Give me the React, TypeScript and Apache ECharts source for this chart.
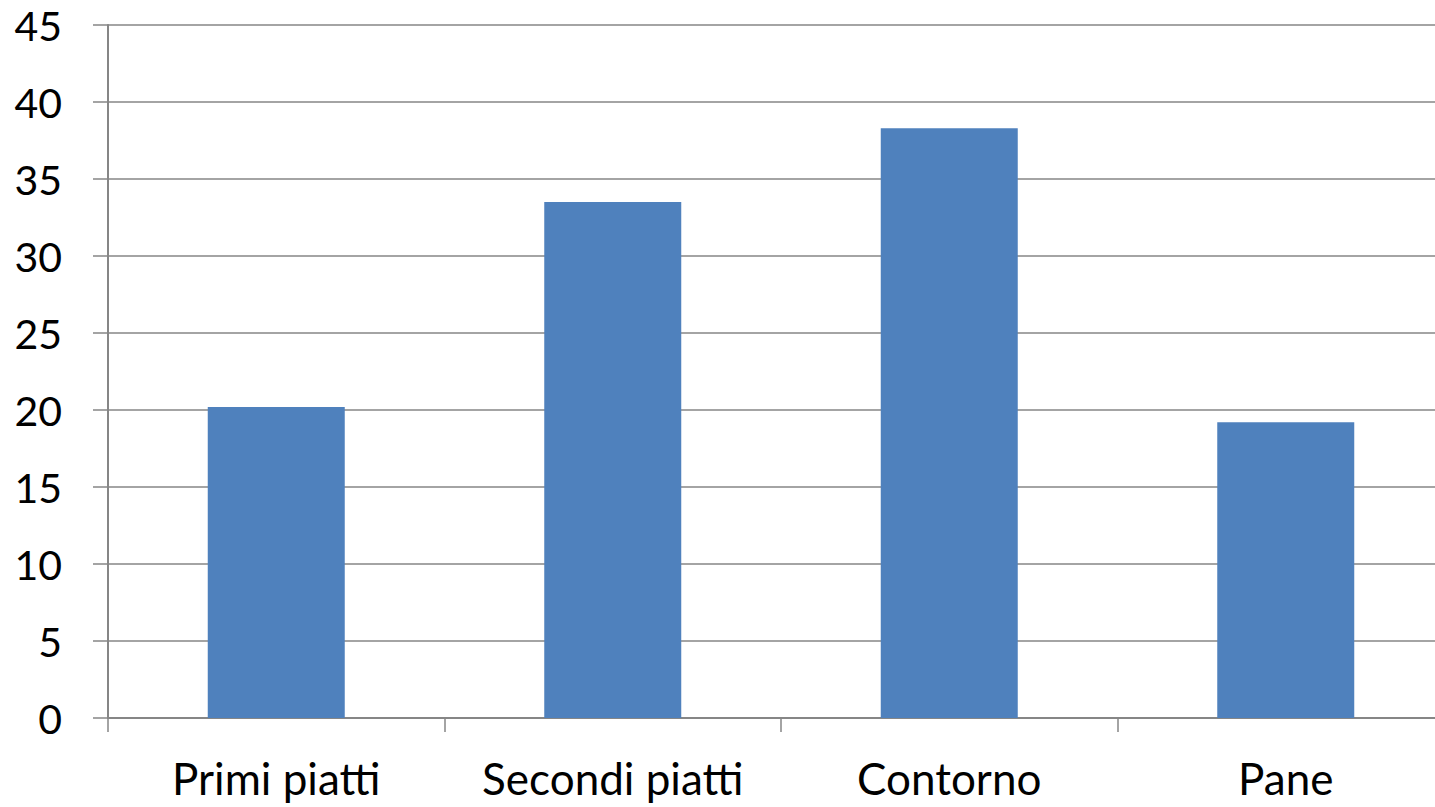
import React, { useEffect, useRef } from "react";
import * as echarts from "echarts";

const categories = ["Primi piatti", "Secondi piatti", "Contorno", "Pane"];
const values = [20.2, 33.5, 38.3, 19.2];
const yTicks = { min: 0, max: 45, interval: 5 };

export default function App() {
  const ref = useRef<HTMLDivElement>(null);
  useEffect(() => {
    if (!ref.current) return;
    document.documentElement.style.overflow = "hidden";
    document.body.style.overflow = "hidden";
    document.body.style.margin = "0";
    const chart = echarts.init(ref.current, undefined, { renderer: "svg" });
    const font = "Lato, 'Open Sans', sans-serif";
    chart.setOption({
      animation: false,
      grid: { left: 108, top: 25, width: 1346, height: 693, containLabel: false },
      xAxis: {
        type: "category",
        data: categories,
        axisLine: { lineStyle: { color: "#868686", width: 2 } },
        axisTick: { show: true, interval: 0, length: 14, lineStyle: { color: "#868686", width: 1.5 } },
        axisLabel: { interval: 0, color: "#000", fontFamily: font, fontSize: 44, margin: 38 },
      },
      yAxis: {
        type: "value",
        min: yTicks.min,
        max: yTicks.max,
        interval: yTicks.interval,
        axisLine: { show: true, lineStyle: { color: "#868686", width: 2 } },
        axisTick: { show: true, length: 15, lineStyle: { color: "#868686", width: 1.5 } },
        splitLine: { lineStyle: { color: "#868686", width: 1.5 } },
        axisLabel: { color: "#000", fontFamily: font, fontSize: 41, margin: 46 },
      },
      series: [
        {
          type: "bar",
          data: values,
          barWidth: 137,
          itemStyle: { color: "#4F81BD" },
        },
      ],
    });
    return () => chart.dispose();
  }, []);
  return (
    <div style={{ position: "fixed", left: 0, top: 0, width: 1435, height: 807, overflow: "hidden", background: "#fff" }}>
      <div ref={ref} style={{ width: 1480, height: 807 }} />
    </div>
  );
}
